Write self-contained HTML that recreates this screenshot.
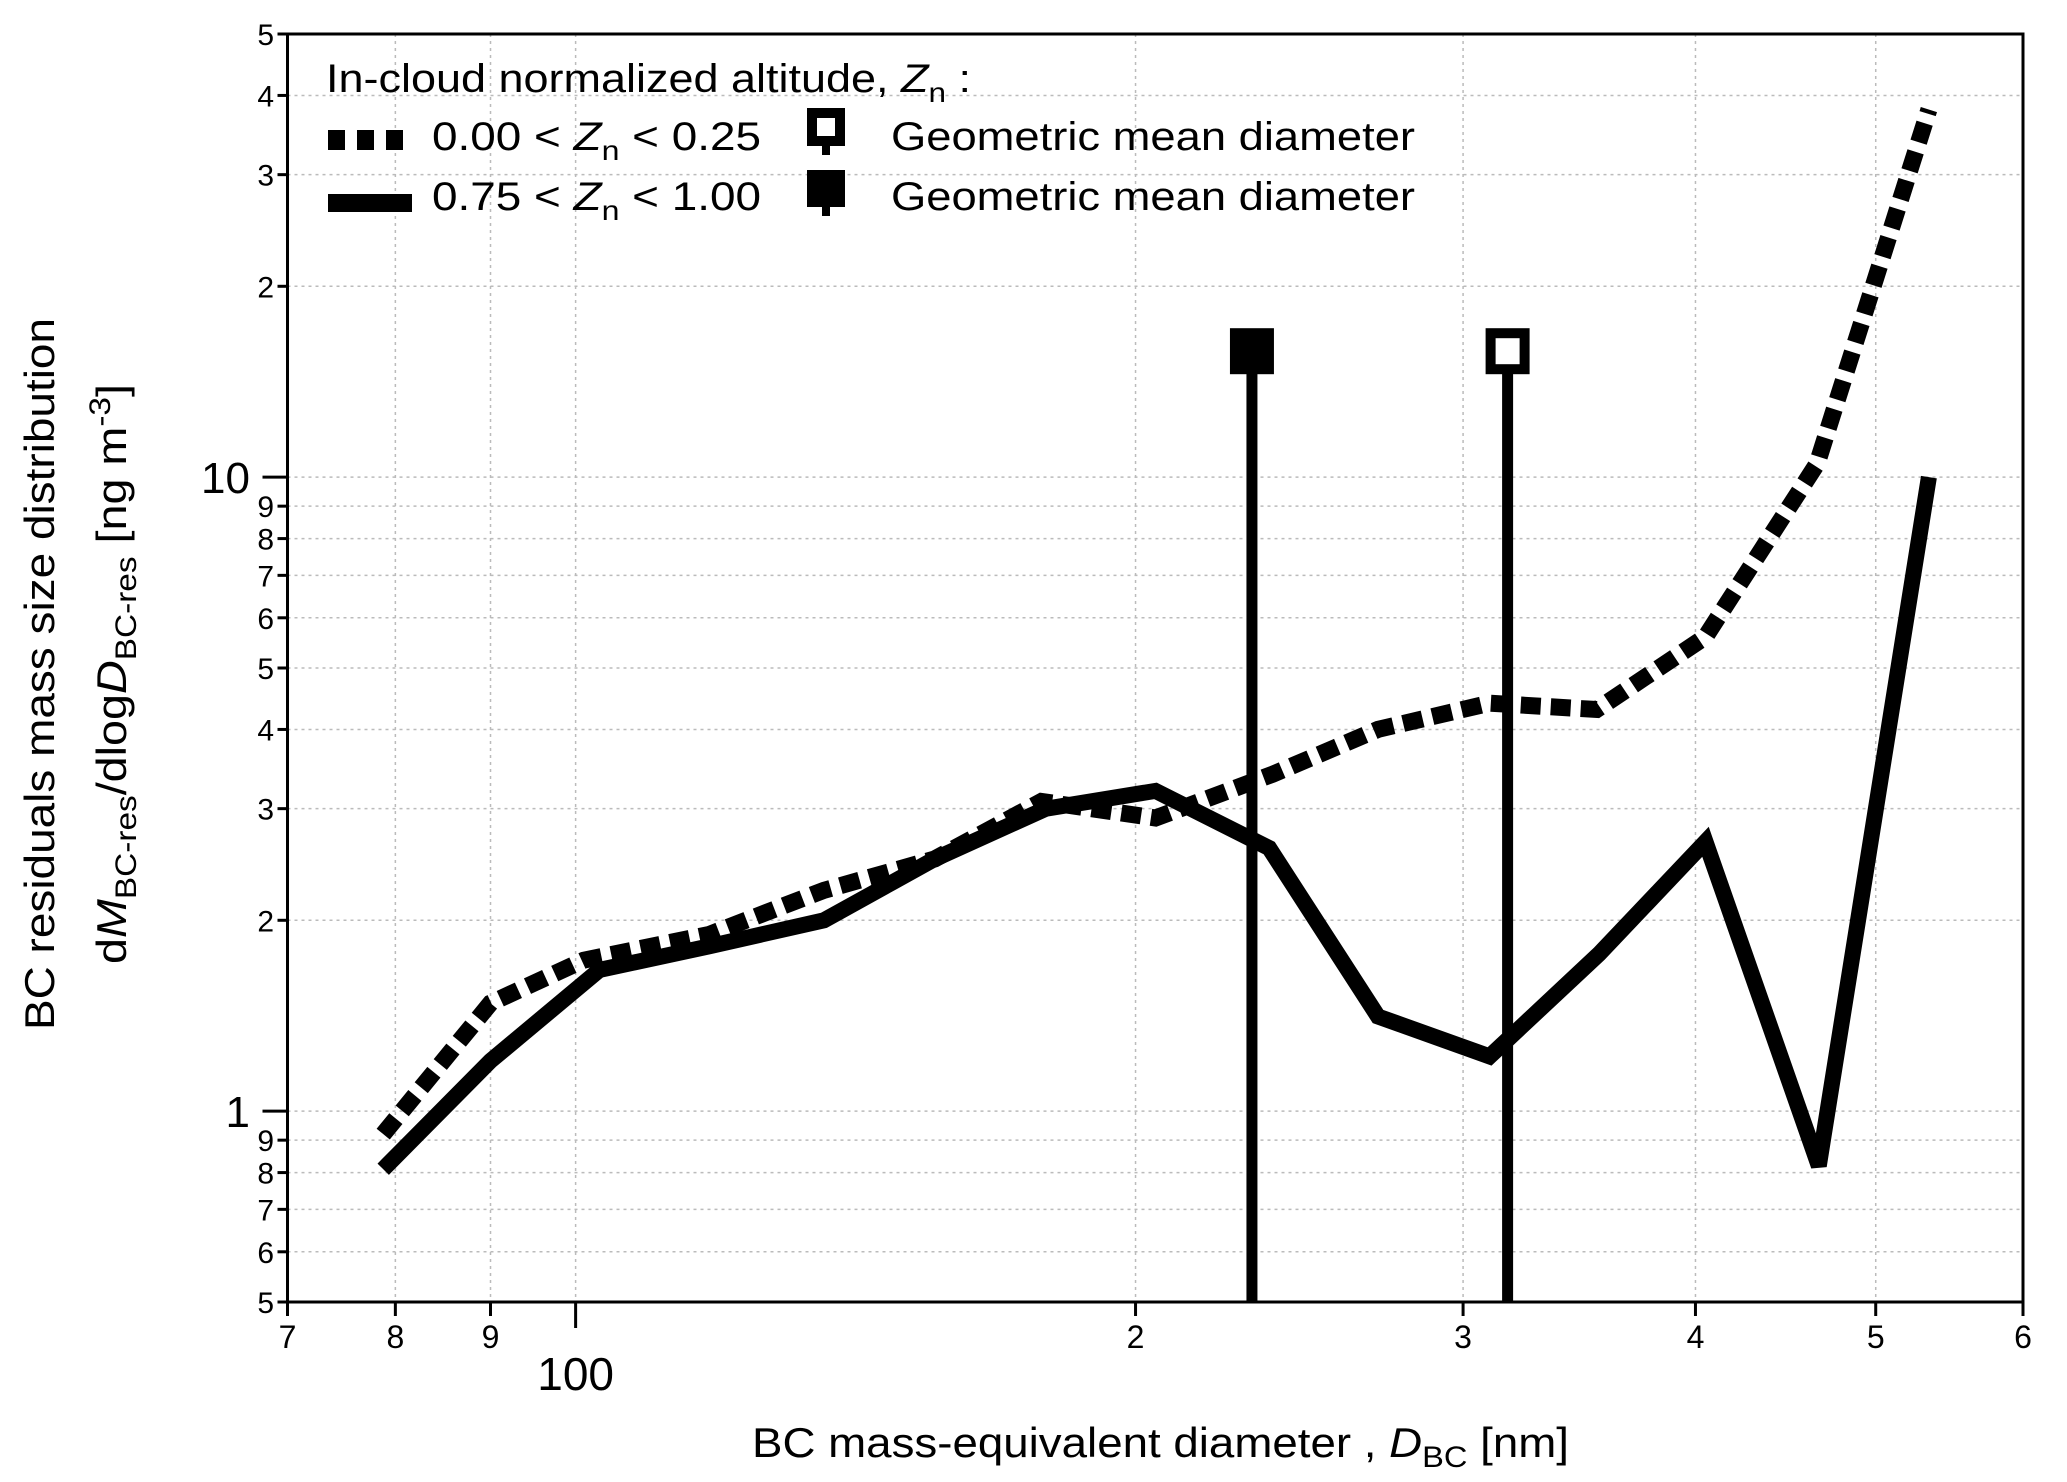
<!DOCTYPE html>
<html><head><meta charset="utf-8">
<style>
html,body{margin:0;padding:0;background:#fff;}
svg{display:block;font-family:"Liberation Sans",Arial,sans-serif;}
</style></head>
<body>
<svg id="chart" width="2067" height="1482" viewBox="0 0 2067 1482" xmlns="http://www.w3.org/2000/svg">
<g id="grid"></g>
<g id="axes"></g>
<g id="series"></g>
<rect x="287.5" y="34" width="1735.5" height="1268" fill="none" stroke="#000" stroke-width="3"/>
<g font-size="40">
  <text x="326" y="92" textLength="645" lengthAdjust="spacingAndGlyphs">In-cloud normalized altitude, <tspan font-style="italic">Z</tspan><tspan font-size="28" dy="10">n</tspan><tspan dy="-10"> :</tspan></text>
  <line x1="328" y1="140" x2="404" y2="140" stroke="#000" stroke-width="20" stroke-dasharray="17 12"/>
  <text x="432" y="150" textLength="329" lengthAdjust="spacingAndGlyphs">0.00 &lt; <tspan font-style="italic">Z</tspan><tspan font-size="28" dy="10">n</tspan><tspan dy="-10"> &lt; 0.25</tspan></text>
  <rect x="812" y="113" width="28" height="28" fill="#fff" stroke="#000" stroke-width="10"/>
  <rect x="822" y="141" width="8" height="14" fill="#000"/>
  <text x="891" y="150" textLength="524" lengthAdjust="spacingAndGlyphs">Geometric mean diameter</text>
  <line x1="328" y1="203" x2="412" y2="203" stroke="#000" stroke-width="18"/>
  <text x="432" y="210" textLength="329" lengthAdjust="spacingAndGlyphs">0.75 &lt; <tspan font-style="italic">Z</tspan><tspan font-size="28" dy="10">n</tspan><tspan dy="-10"> &lt; 1.00</tspan></text>
  <rect x="807" y="170" width="38" height="37" fill="#000"/>
  <rect x="822" y="205" width="8" height="11" fill="#000"/>
  <text x="891" y="210" textLength="524" lengthAdjust="spacingAndGlyphs">Geometric mean diameter</text>
</g>
<text x="752" y="1457" font-size="42" textLength="817" lengthAdjust="spacingAndGlyphs">BC mass-equivalent diameter , <tspan font-style="italic">D</tspan><tspan font-size="30" dy="10">BC</tspan><tspan dy="-10"> [nm]</tspan></text>
<text transform="translate(54,1030) rotate(-90)" font-size="42" textLength="712" lengthAdjust="spacingAndGlyphs">BC residuals mass size distribution</text>
<text transform="translate(126,964) rotate(-90)" font-size="42" textLength="580" lengthAdjust="spacingAndGlyphs">d<tspan font-style="italic">M</tspan><tspan font-size="30" dy="10">BC-res</tspan><tspan dy="-10">/dlog</tspan><tspan font-style="italic">D</tspan><tspan font-size="30" dy="10">BC-res</tspan><tspan dy="-10"> [ng m</tspan><tspan font-size="30" dy="-16">-3</tspan><tspan dy="16">]</tspan></text>
</svg>
<script>
const xTickValues=[70,80,90,100,200,300,400,500,600];
const xTickLabels=["7","8","9","","2","3","4","5","6"];
const yTickValues=[0.5,0.6,0.7,0.8,0.9,1,2,3,4,5,6,7,8,9,10,20,30,40,50];
const yTickLabels=["5","6","7","8","9","1","2","3","4","5","6","7","8","9","10","2","3","4","5"];
const diameters=[78.8,90,101,118,136,156,178,205,237,270,310,354,405,465,534];
const lowZnValues=[0.92,1.48,1.73,1.9,2.23,2.5,3.08,2.9,3.4,4.0,4.4,4.3,5.6,10.5,38];
const diametersHigh=[78.8,90,103,118,136,156,179,205,236,270,310,355,405,466,534];
const highZnValues=[0.81,1.2,1.67,1.82,2.0,2.5,3.0,3.2,2.6,1.41,1.22,1.77,2.66,0.82,10];
const meanDiameterHigh=231, meanDiameterLow=317, meanMarkerY=15.8;

const L=287.5,R=2023,T=34,B=1302;
const xs=v=>L+(R-L)*Math.log10(v/70)/Math.log10(600/70);
const ys=v=>B-(B-T)*Math.log10(v/0.5)/2;
const NS="http://www.w3.org/2000/svg";
function mk(tag,attrs,parent){const e=document.createElementNS(NS,tag);for(const k in attrs)e.setAttribute(k,attrs[k]);parent.appendChild(e);return e;}
const grid=document.getElementById('grid'),axes=document.getElementById('axes'),series=document.getElementById('series');
xTickValues.forEach((v,i)=>{
  const x=xs(v);
  if(i>0 && i<xTickValues.length-1){const g=mk('line',{x1:x,y1:T,x2:x,y2:B,stroke:'#bbb','stroke-width':1.5,'stroke-dasharray':'3 4'},grid);
  
  }
  const major=v===100;
  const t=mk('line',{x1:x,y1:B,x2:x,y2:B+(major?26:14),stroke:'#000','stroke-width':3},axes);
  
  
  if(xTickLabels[i]){const lb=mk('text',{x:x,y:1348,'font-size':32,'text-anchor':'middle'},axes);lb.textContent=xTickLabels[i];
  
  }
});
const l100=mk('text',{x:xs(100),y:1390,'font-size':46,'text-anchor':'middle'},axes);l100.textContent='100';


yTickValues.forEach((v,i)=>{
  const y=ys(v);
  if(i>0 && i<yTickValues.length-1){const g=mk('line',{x1:L,y1:y,x2:R,y2:y,stroke:'#bbb','stroke-width':1.5,'stroke-dasharray':'3 4'},grid);
  
  }
  const major=(v===1||v===10);
  const t=mk('line',{x1:L-(major?25:10),y1:y,x2:L,y2:y,stroke:'#000','stroke-width':3},axes);
  
  
  const lb=mk('text',{x:major?250:274,y:y+(major?16:11),'font-size':major?44:30,'text-anchor':'end'},axes);lb.textContent=yTickLabels[i];
  
  
});
function path(xv,yv){return xv.map((v,i)=>(i?'L':'M')+xs(v).toFixed(1)+','+ys(yv[i]).toFixed(1)).join(' ');}
const pl=mk('path',{d:path(diameters,lowZnValues),fill:'none',stroke:'#000','stroke-width':17,'stroke-dasharray':'20 10'},series);


const ph=mk('path',{d:path(diametersHigh,highZnValues),fill:'none',stroke:'#000','stroke-width':16,'stroke-linejoin':'miter'},series);


[[meanDiameterHigh,true],[meanDiameterLow,false]].forEach(([d,filled])=>{
  const x=xs(d),y=ys(meanMarkerY);
  const s=mk('line',{x1:x,y1:y,x2:x,y2:B,stroke:'#000','stroke-width':11},series);
  
  
  const r=filled?mk('rect',{x:x-22,y:y-23,width:44,height:46,fill:'#000'},series):mk('rect',{x:x-17,y:y-18,width:34,height:36,fill:'#fff',stroke:'#000','stroke-width':10},series);
  
  
});
</script>
</body></html>
